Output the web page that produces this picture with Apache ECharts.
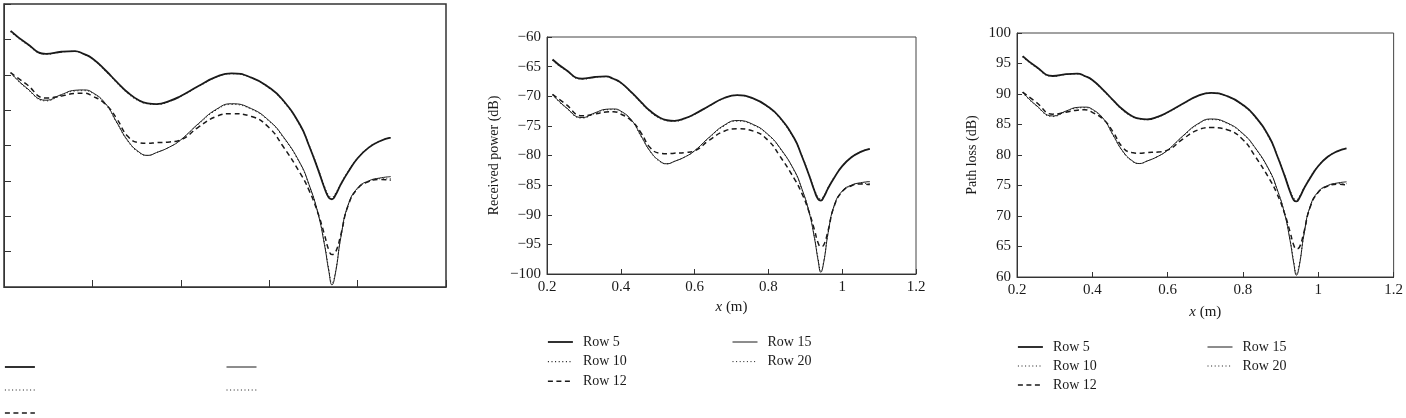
<!DOCTYPE html>
<html>
<head>
<meta charset="utf-8">
<title>Received power and path loss along x</title>
<script src="https://cdn.jsdelivr.net/npm/echarts@6/dist/echarts.min.js"></script>
<style>
html, body { margin: 0; padding: 0; background: #fff; }
#chart { width: 1406px; height: 418px; }
</style>
</head>
<body>
<div id="chart"></div>
<script>
// x positions (m)
var xs = [0.215, 0.25, 0.295, 0.33, 0.36, 0.38, 0.4, 0.43, 0.455, 0.48, 0.505, 0.525, 0.545, 0.575, 0.6,
          0.64, 0.68, 0.715, 0.76, 0.8, 0.83, 0.87, 0.89, 0.91, 0.925, 0.935, 0.942, 0.95, 0.962,
          0.978, 1.0, 1.025, 1.05, 1.075];

// received power (dB)
var rxRow5  = [-63.8, -65.5, -67.05, -66.75, -66.65, -67.05, -67.7, -69.4, -71.0, -72.5, -73.6, -74.05, -74.15, -73.7, -73.0,
               -71.6, -70.3, -69.8, -70.4, -71.8, -73.5, -77.1, -80.0, -83.3, -86.0, -87.4, -87.6, -87.0, -85.5,
               -83.8, -81.8, -80.3, -79.4, -78.9];
var rxRow10 = [-63.9, -65.6, -67.1, -66.8, -66.7, -67.1, -67.75, -69.5, -71.1, -72.6, -73.7, -74.1, -74.2, -73.75, -73.05,
               -71.65, -70.35, -69.85, -70.45, -71.9, -73.6, -77.2, -79.9, -83.2, -85.8, -87.1, -87.3, -86.8, -85.4,
               -83.7, -81.8, -80.3, -79.4, -78.85];
var rxRow12 = [-69.7, -71.3, -73.3, -73.0, -72.65, -72.6, -73.0, -74.2, -76.2, -78.7, -79.6, -79.7, -79.6, -79.5, -79.2,
               -77.4, -75.9, -75.5, -75.9, -77.5, -80.0, -83.9, -86.3, -89.5, -92.6, -94.8, -95.4, -95.1, -92.6,
               -88.6, -86.1, -85.1, -84.8, -84.9];
var rxRow15 = [-69.7, -71.8, -73.6, -72.8, -72.2, -72.15, -72.5, -74.1, -76.7, -79.3, -80.9, -81.4, -81.0, -80.2, -79.2,
               -76.9, -74.9, -74.1, -74.8, -76.5, -78.6, -82.5, -85.5, -89.5, -94.0, -97.8, -99.7, -98.0, -93.0,
               -88.5, -86.0, -85.0, -84.6, -84.4];
var rxRow20 = [-69.8, -71.9, -73.7, -72.9, -72.3, -72.25, -72.6, -74.2, -76.8, -79.4, -81.0, -81.4, -81.0, -80.2, -79.2,
               -77.0, -75.0, -74.2, -74.9, -76.6, -78.7, -82.6, -85.6, -89.4, -93.8, -97.5, -99.4, -97.8, -93.0,
               -88.6, -86.1, -85.1, -84.7, -84.7];

// path loss (dB)
var plRow5  = [96.2, 94.5, 92.95, 93.25, 93.35, 92.95, 92.3, 90.6, 89.0, 87.5, 86.4, 85.95, 85.85, 86.3, 87.0,
               88.4, 89.7, 90.2, 89.6, 88.2, 86.5, 82.9, 80.0, 76.7, 74.0, 72.6, 72.4, 73.0, 74.5,
               76.2, 78.2, 79.7, 80.6, 81.1];
var plRow10 = [96.1, 94.4, 92.9, 93.2, 93.3, 92.9, 92.25, 90.5, 88.9, 87.4, 86.3, 85.9, 85.8, 86.25, 86.95,
               88.35, 89.65, 90.15, 89.55, 88.1, 86.4, 82.8, 80.1, 76.8, 74.2, 72.9, 72.7, 73.2, 74.6,
               76.3, 78.2, 79.7, 80.6, 81.15];
var plRow12 = [90.3, 88.7, 86.7, 87.0, 87.35, 87.4, 87.0, 85.8, 83.8, 81.3, 80.4, 80.3, 80.4, 80.5, 80.8,
               82.6, 84.1, 84.5, 84.1, 82.5, 80.0, 76.1, 73.7, 70.5, 67.4, 65.2, 64.6, 64.9, 67.4,
               71.4, 73.9, 74.9, 75.2, 75.1];
var plRow15 = [90.3, 88.2, 86.4, 87.2, 87.8, 87.85, 87.5, 85.9, 83.3, 80.7, 79.1, 78.6, 79.0, 79.8, 80.8,
               83.1, 85.1, 85.9, 85.2, 83.5, 81.4, 77.5, 74.5, 70.5, 66.0, 62.2, 60.3, 62.0, 67.0,
               71.5, 74.0, 75.0, 75.4, 75.6];
var plRow20 = [90.2, 88.1, 86.3, 87.1, 87.7, 87.75, 87.4, 85.8, 83.2, 80.6, 79.0, 78.6, 79.0, 79.8, 80.8,
               83.0, 85.0, 85.8, 85.1, 83.4, 81.3, 77.4, 74.4, 70.6, 66.2, 62.5, 60.6, 62.2, 67.0,
               71.4, 73.9, 74.9, 75.3, 75.3];

var rowNames = ['Row 5', 'Row 10', 'Row 12', 'Row 15', 'Row 20'];
var xRange = [0.2, 1.2, 0.2];
var rxRange = [-100, -60, 5];
var plRange = [60, 100, 5];

var FONT = '"Liberation Serif", "DejaVu Serif", serif';
var INK = '#1a1a1a';

var rowStyles = {
    'Row 5':  {type: 'solid', width: 1.8},
    'Row 10': {type: [1, 2.6], width: 1.1},
    'Row 12': {type: [5, 3.5], width: 1.5},
    'Row 15': {type: 'solid', width: 1},
    'Row 20': {type: [1, 2.6], width: 1}
};
// dotted rows first so the solid ones sit on top
var drawOrder = ['Row 10', 'Row 20', 'Row 12', 'Row 15', 'Row 5'];

function pairs(ys) {
    return xs.map(function (x, i) { return [x, ys[i]]; });
}

function minus(v) {
    return String(v).replace('-', '\u2212');
}

var panels = [
    {data: {'Row 5': rxRow5, 'Row 10': rxRow10, 'Row 12': rxRow12, 'Row 15': rxRow15, 'Row 20': rxRow20}, range: rxRange},
    {data: {'Row 5': rxRow5, 'Row 10': rxRow10, 'Row 12': rxRow12, 'Row 15': rxRow15, 'Row 20': rxRow20}, range: rxRange},
    {data: {'Row 5': plRow5, 'Row 10': plRow10, 'Row 12': plRow12, 'Row 15': plRow15, 'Row 20': plRow20}, range: plRange}
];

var series = [];
panels.forEach(function (p, k) {
    drawOrder.forEach(function (name) {
        series.push({
            name: name,
            type: 'line',
            xAxisIndex: k,
            yAxisIndex: k,
            data: pairs(p.data[name]),
            symbol: 'none',
            smooth: 0.5,
            lineStyle: {color: INK, width: rowStyles[name].width, type: rowStyles[name].type},
            itemStyle: {color: INK},
            emphasis: {disabled: true},
            silent: true
        });
    });
});

function xAxis(k, showText, tickLen, nameGap) {
    return {
        type: 'value', gridIndex: k,
        min: xRange[0], max: xRange[1], interval: xRange[2],
        name: showText ? '{i|x} (m)' : '',
        nameLocation: 'middle', nameGap: nameGap,
        nameTextStyle: {fontFamily: FONT, fontSize: 15, color: INK, rich: {i: {fontFamily: FONT, fontStyle: 'italic', fontSize: 15, color: INK}}},
        axisLine: {show: true, lineStyle: {color: '#333', width: 1}},
        axisTick: {show: true, inside: true, length: tickLen, lineStyle: {color: '#333'}},
        axisLabel: {show: showText, margin: 6, fontFamily: FONT, fontSize: 15, color: INK},
        splitLine: {show: false}
    };
}

function yAxis(k, range, showText, title, tickLen, nameGap) {
    return {
        type: 'value', gridIndex: k,
        min: range[0], max: range[1], interval: range[2],
        name: showText ? title : '',
        nameLocation: 'middle', nameGap: nameGap, nameRotate: 90,
        nameTextStyle: {fontFamily: FONT, fontSize: 14, color: INK},
        axisLine: {show: true, lineStyle: {color: '#333', width: 1}},
        axisTick: {show: true, inside: true, length: tickLen, lineStyle: {color: '#333'}},
        axisLabel: {show: showText, margin: 6, fontFamily: FONT, fontSize: 15, color: INK, formatter: minus},
        splitLine: {show: false}
    };
}

function legendCol(names, left, top, width, gap, showText) {
    return {
        data: names,
        orient: 'vertical',
        left: left, top: top,
        padding: 0,
        itemWidth: width, itemHeight: 10, itemGap: gap,
        selectedMode: false,
        itemStyle: {opacity: 0},
        lineStyle: {width: 'inherit'},
        textStyle: {fontFamily: FONT, fontSize: 14, color: INK, padding: [0, 0, 0, 5]},
        formatter: showText ? '{name}' : function () { return ''; }
    };
}

var myChart = echarts.init(document.getElementById('chart'));
var option = {
    backgroundColor: '#fff',
    animation: false,
    grid: [
        {left: 4, top: 4, width: 442, height: 283, show: true, borderColor: '#333', borderWidth: 1.5, backgroundColor: 'transparent'},
        {left: 547, top: 37, width: 369, height: 237, show: true, borderColor: '#444', borderWidth: 1, backgroundColor: 'transparent'},
        {left: 1017, top: 33, width: 378, height: 244, show: true, borderColor: '#444', borderWidth: 1, backgroundColor: 'transparent'}
    ],
    xAxis: [
        xAxis(0, false, 7, 25),
        xAxis(1, true, 5, 26),
        xAxis(2, true, 5, 28)
    ],
    yAxis: [
        yAxis(0, rxRange, false, '', 7, 40),
        yAxis(1, rxRange, true, 'Received power (dB)', 5, 46),
        yAxis(2, plRange, true, 'Path loss (dB)', 5, 38)
    ],
    legend: [
        legendCol(['Row 5', 'Row 10', 'Row 12'], 4, 362, 30, 14, false),
        legendCol(['Row 15', 'Row 20'], 226, 362, 30, 14, false),
        legendCol(['Row 5', 'Row 10', 'Row 12'], 547, 335, 25, 5.6, true),
        legendCol(['Row 15', 'Row 20'], 732, 335, 25, 5.6, true),
        legendCol(['Row 5', 'Row 10', 'Row 12'], 1017, 340, 25, 5, true),
        legendCol(['Row 15', 'Row 20'], 1207, 340, 25, 5, true)
    ],
    series: series
};
myChart.setOption(option);
</script>
</body>
</html>
